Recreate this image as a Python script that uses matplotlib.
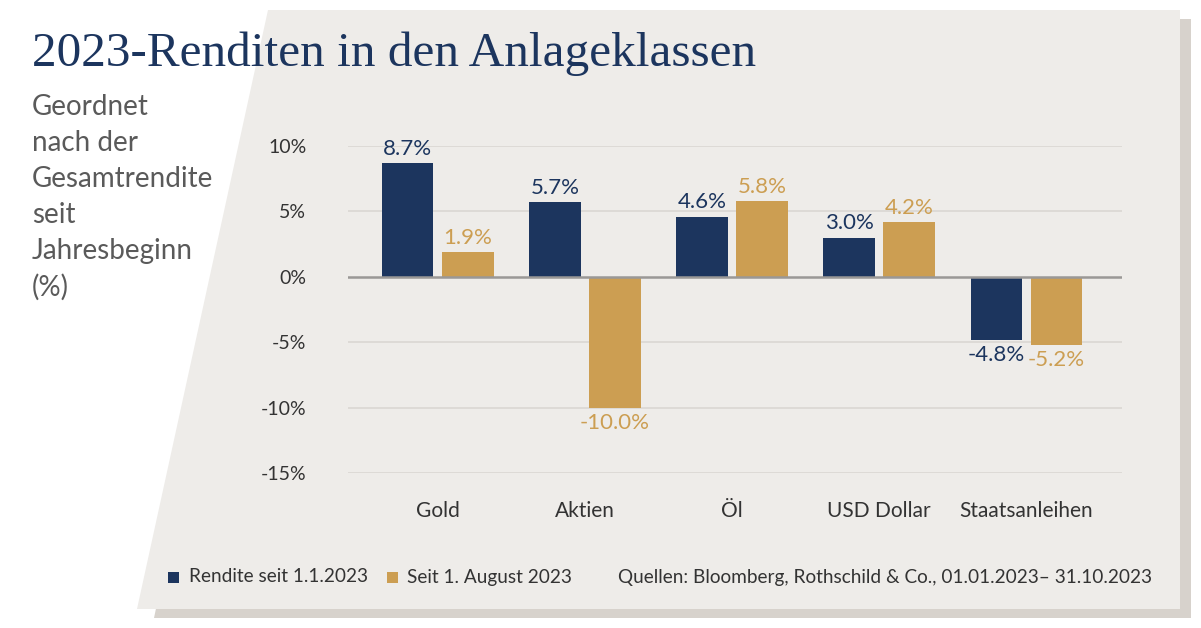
import numpy as np
import matplotlib
matplotlib.use("Agg")
import matplotlib.pyplot as plt
from matplotlib.patches import Polygon, Rectangle

# Daten
kategorien = ["Gold", "Aktien", "Öl", "USD Dollar", "Staatsanleihen"]
rendite_jahr = [8.7, 5.7, 4.6, 3.0, -4.8]
rendite_aug = [1.9, -10.0, 5.8, 4.2, -5.2]
y_ticks = [10, 5, 0, -5, -10, -15]
legende = ["Rendite seit 1.1.2023", "Seit 1. August 2023"]
quelle = "Quellen: Bloomberg, Rothschild & Co., 01.01.2023– 31.10.2023"

NAVY = "#1c355e"
GOLD = "#cc9e52"
PANEL = "#eeece9"
SCHATTEN = "#d7d2cc"

W, H = 1201, 628
SANS = "Lato"

fig = plt.figure(figsize=(W / 100, H / 100), dpi=100)
fig.patch.set_facecolor("white")


def px(x, y):
    return (x / W, 1 - y / H)


# Hintergrund (Schatten + Panel)
schatten = Polygon([px(280, 19), px(1191, 19), px(1191, 618), px(154, 618)],
                   closed=True, transform=fig.transFigure, facecolor=SCHATTEN,
                   edgecolor="none", zorder=0)
panel = Polygon([px(268, 10), px(1180, 10), px(1180, 609), px(137, 609)],
                closed=True, transform=fig.transFigure, facecolor=PANEL,
                edgecolor="none", zorder=1)
fig.add_artist(schatten)
fig.add_artist(panel)

# Titel
fig.text(32 / W, 1 - 66 / H, "2023-Renditen in den Anlageklassen",
         fontfamily="Liberation Serif", fontsize=35.5, color=NAVY,
         ha="left", va="baseline", zorder=5)

# Untertitel
untertitel = ["Geordnet", "nach der", "Gesamtrendite", "seit", "Jahresbeginn", "(%)"]
for i, zeile in enumerate(untertitel):
    fig.text(32 / W, 1 - (107 + 36 * i) / H, zeile, fontfamily=SANS,
             fontsize=20, color="#5a5a5a",
             ha="left", va="center", zorder=5)

# Diagramm
ax = fig.add_axes([348 / W, 1 - 473 / H, 774 / W, 327 / H])
ax.set_facecolor("none")
ax.set_zorder(3)

x = np.arange(len(kategorien))
breite = 0.35
versatz = 0.204

b1 = ax.bar(x - versatz, rendite_jahr, breite, color=NAVY, zorder=3)
b2 = ax.bar(x + versatz, rendite_aug, breite, color=GOLD, zorder=3)

for balken, werte, farbe in [(b1, rendite_jahr, NAVY), (b2, rendite_aug, GOLD)]:
    for r, v in zip(balken, werte):
        cx = r.get_x() + r.get_width() / 2
        if v >= 0:
            ax.annotate(f"{v:.1f}%", (cx, v), xytext=(0, 3), textcoords="offset points",
                        ha="center", va="bottom", color=farbe, fontsize=16,
                        fontfamily=SANS, annotation_clip=False)
        else:
            ax.annotate(f"{v:.1f}%", (cx, v), xytext=(0, -4), textcoords="offset points",
                        ha="center", va="top", color=farbe, fontsize=16,
                        fontfamily=SANS, annotation_clip=False)

ax.set_xlim(-0.61, 4.65)
ax.set_ylim(-15, 10)
ax.set_yticks(y_ticks)
ax.set_yticklabels([f"{t}%" for t in y_ticks])
for t in y_ticks:
    if t != 0:
        ax.axhline(t, color="#dad7d3", linewidth=1.2, zorder=1)
ax.axhline(0, color="#9a9896", linewidth=1.8, zorder=4)

ax.set_xticks(x)
ax.set_xticklabels(kategorien)
ax.tick_params(axis="both", length=0, labelsize=14, labelcolor="#333333")
ax.tick_params(axis="x", labelsize=15, pad=20)
ax.tick_params(axis="y", pad=30)
for lab in ax.get_xticklabels() + ax.get_yticklabels():
    lab.set_fontfamily(SANS)
for s in ax.spines.values():
    s.set_visible(False)

# Legende
fig.add_artist(Rectangle(px(168, 583), 11 / W, 11 / H, transform=fig.transFigure,
                         facecolor=NAVY, edgecolor="none", zorder=5))
fig.text(189 / W, 1 - 577 / H, legende[0], fontfamily=SANS,
         fontsize=13.7, color="#333333", ha="left", va="center", zorder=5)
fig.add_artist(Rectangle(px(387, 583), 11 / W, 11 / H, transform=fig.transFigure,
                         facecolor=GOLD, edgecolor="none", zorder=5))
fig.text(407 / W, 1 - 577 / H, legende[1], fontfamily=SANS,
         fontsize=13.7, color="#333333", ha="left", va="center", zorder=5)
fig.text(1152 / W, 1 - 577 / H, quelle, fontfamily=SANS,
         fontsize=13.7, color="#333333", ha="right", va="center", zorder=5)

fig.savefig("out.png", dpi=100, facecolor=fig.get_facecolor())
